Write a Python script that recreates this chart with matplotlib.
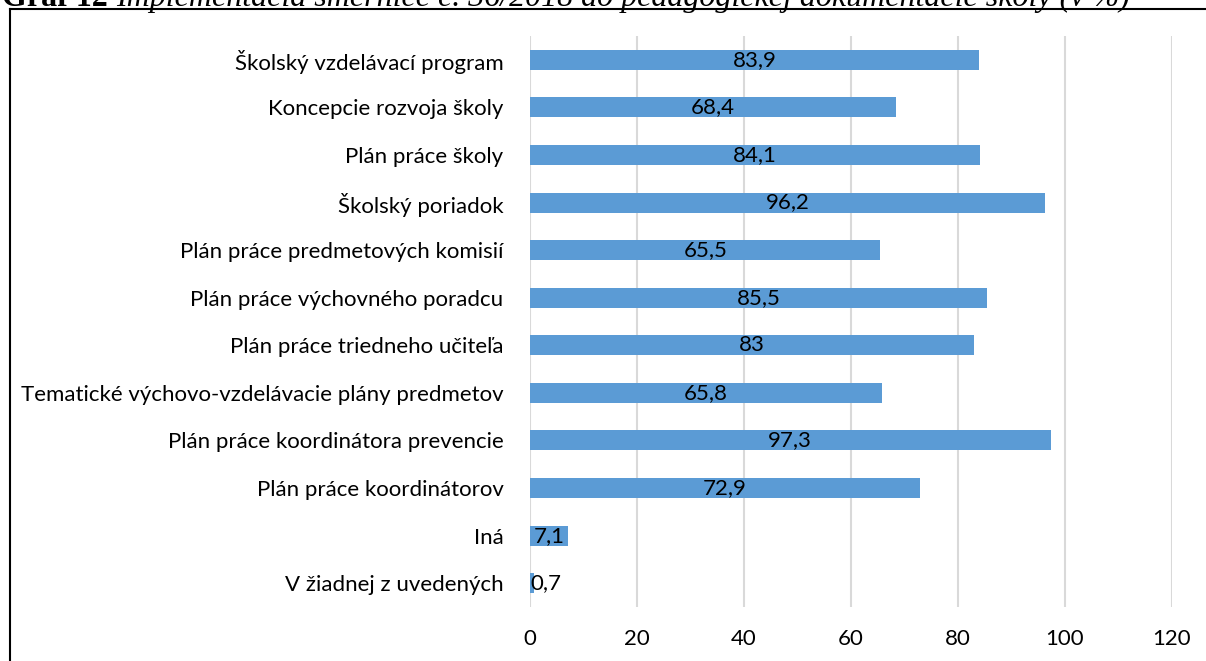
import matplotlib
matplotlib.use("Agg")
import matplotlib.pyplot as plt
from matplotlib.lines import Line2D

# ---------------- DATA ----------------
categories = [
    "Školský vzdelávací program",
    "Koncepcie rozvoja školy",
    "Plán práce školy",
    "Školský poriadok",
    "Plán práce predmetových komisií",
    "Plán práce výchovného poradcu",
    "Plán práce triedneho učiteľa",
    "Tematické výchovo-vzdelávacie plány predmetov",
    "Plán práce koordinátora prevencie",
    "Plán práce koordinátorov",
    "Iná",
    "V žiadnej z uvedených",
]
values = [83.9, 68.4, 84.1, 96.2, 65.5, 85.5, 83, 65.8, 97.3, 72.9, 7.1, 0.7]
x_ticks = [0, 20, 40, 60, 80, 100, 120]
title_num = "Graf 12 "
title_text = "Implementácia smernice č. 36/2018 do pedagogickej dokumentácie školy (v %)"
# --------------------------------------

W, H, DPI = 1206, 661, 100
FS = 16
font = "Lato"

fig = plt.figure(figsize=(W / DPI, H / DPI), dpi=DPI)
fig.patch.set_facecolor("white")

# axes in pixel coords: x 530..1172, y 36..607
ax = fig.add_axes([530 / W, 1 - 607 / H, (1172 - 530) / W, (607 - 36) / H])

y = list(range(len(categories)))
ax.barh(y, values, height=0.42, color="#5B9BD5", zorder=3)
ax.set_ylim(len(categories) - 0.5, -0.5)
ax.set_xlim(0, 120)
ax.set_xticks(x_ticks)
ax.set_xticklabels([str(t) for t in x_ticks])
ax.set_yticks(y)
ax.set_yticklabels(categories)

for lbl in ax.get_yticklabels() + ax.get_xticklabels():
    lbl.set_fontfamily(font)
    lbl.set_fontsize(FS)
    lbl.set_color("#000000")

ax.tick_params(axis="y", length=0, pad=19)
ax.tick_params(axis="x", length=0, pad=16)
ax.grid(axis="x", color="#D9D9D9", linewidth=1.5, zorder=0)
for s in ax.spines.values():
    s.set_visible(False)

for yi, v in zip(y, values):
    txt = f"{v:g}".replace(".", ",")
    if v > 5:
        ax.text(v / 2, yi, txt, ha="center", va="center", fontsize=FS,
                fontfamily=font, zorder=4)
    else:
        ax.text(0, yi, txt, ha="left", va="center", fontsize=FS,
                fontfamily=font, zorder=4)

# caption above the frame (partly cut off at the top, like the source)
t1 = fig.text(2 / W, 1 - 6 / H, title_num, ha="left", va="baseline",
              fontsize=23, fontfamily="Liberation Serif", weight="bold")
fig.canvas.draw()
bb = t1.get_window_extent()
fig.text(bb.x1 / W, 1 - 6 / H, title_text, ha="left", va="baseline",
         fontsize=23, fontfamily="Liberation Serif", style="italic")

# frame lines
fig.add_artist(Line2D([10 / W, 1], [1 - 9 / H, 1 - 9 / H], color="black", lw=1.5))
fig.add_artist(Line2D([10 / W, 10 / W], [0, 1 - 9 / H], color="black", lw=1.5))

fig.savefig("out.png", dpi=DPI)
